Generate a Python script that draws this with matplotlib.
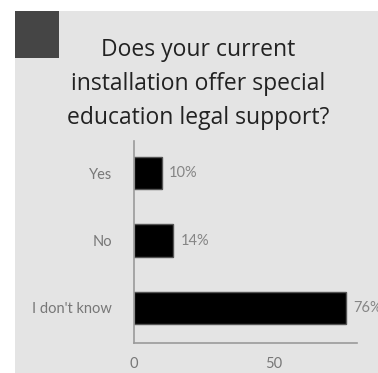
import matplotlib.pyplot as plt
from matplotlib.patches import Rectangle

answers = ['I don\'t know', 'No', 'Yes']
shares = [76, 14, 10]
title = 'Does your current\ninstallation offer special\neducation legal support?'

W, H = 378, 373
fig = plt.figure(figsize=(W / 100, H / 100), dpi=100, facecolor='white')

# grey card behind the chart, dark corner block
fig.patches.append(Rectangle((15 / W, 0), 1 - 15 / W, (H - 11) / H,
                             transform=fig.transFigure, facecolor='#e4e4e4',
                             edgecolor='none', zorder=-2))
fig.patches.append(Rectangle((15 / W, (H - 58) / H), 44 / W, 47 / H,
                             transform=fig.transFigure, facecolor='#454545',
                             edgecolor='none', zorder=-1))

fig.text(198 / W, (H - 84) / H, title, ha='center', va='center',
         fontsize=16.5, family='Open Sans', color='#222222', linespacing=1.58)

ax = fig.add_axes([134 / W, (H - 343) / H, (357 - 134) / W, (343 - 141) / H])
ax.set_zorder(3)
ax.set_facecolor('none')
ypos = range(len(answers))
bars = ax.barh(ypos, shares, height=0.48, color='black', edgecolor='#555555', linewidth=1)
# percentage labels; the last one runs past the card edge
for y, v in zip(ypos, shares):
    ax.text(v + 2.6, y, f'{v}%', va='center', ha='left', fontsize=10.5,
            family='Lato', color='#858585', clip_on=False)

ax.set_xlim(0, 80)
ax.set_ylim(-0.52, 2.48)
ax.set_yticks(list(ypos))
ax.set_yticklabels(answers, family='Lato', fontsize=10.5, color='#777777')
ax.set_xticks([0, 50])
ax.set_xticklabels(['0', '50'], family='Lato', fontsize=10.5, color='#777777')
ax.tick_params(axis='y', length=0, pad=16)
ax.tick_params(axis='x', length=0, pad=10)
for s in ['top', 'right']:
    ax.spines[s].set_visible(False)
for s in ['left', 'bottom']:
    ax.spines[s].set_color('#9a9a9a')
    ax.spines[s].set_linewidth(1.2)

fig.savefig('out.png', dpi=100, facecolor='white')
